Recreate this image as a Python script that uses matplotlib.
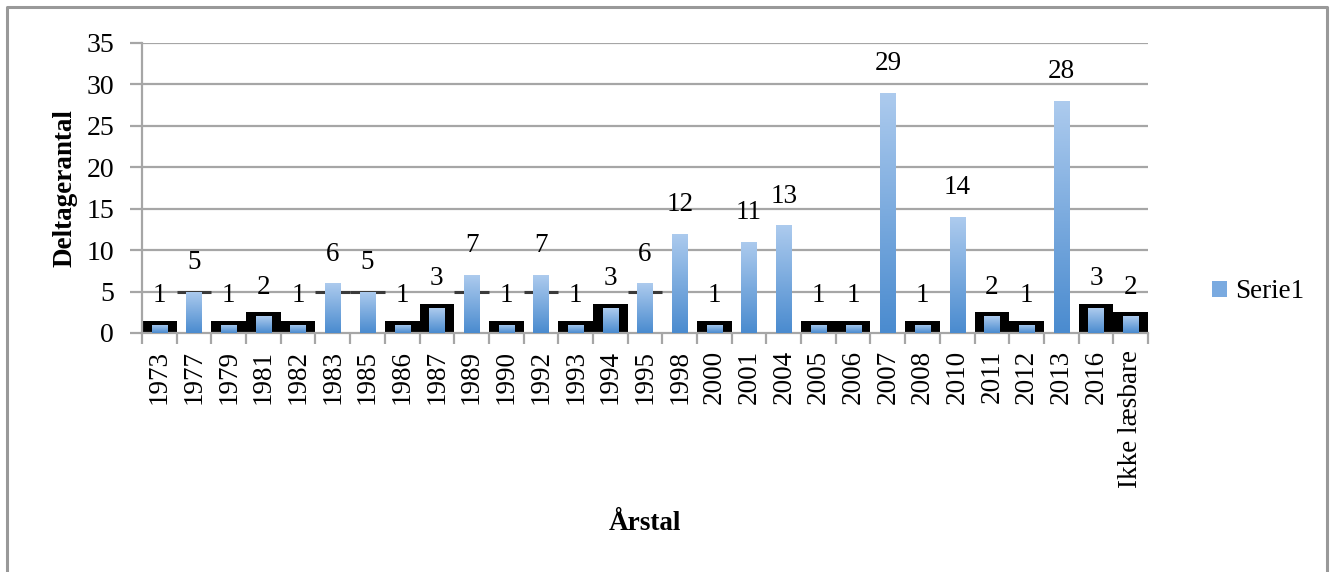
import matplotlib
matplotlib.use("Agg")
import matplotlib.pyplot as plt
import numpy as np
from matplotlib.lines import Line2D
from matplotlib.patches import Patch
from matplotlib.colors import LinearSegmentedColormap

categories = ["1973", "1977", "1979", "1981", "1982", "1983", "1985", "1986", "1987",
              "1989", "1990", "1992", "1993", "1994", "1995", "1998", "2000", "2001",
              "2004", "2005", "2006", "2007", "2008", "2010", "2011", "2012", "2013",
              "2016", "Ikke læsbare"]
values = [1, 5, 1, 2, 1, 6, 5, 1, 3, 7, 1, 7, 1, 3, 6, 12, 1, 11, 13, 1, 1, 29, 1, 14,
          2, 1, 28, 3, 2]
series_name = "Serie1"
yticks = [0, 5, 10, 15, 20, 25, 30, 35]

plt.rcParams['font.family'] = ['Liberation Serif', 'DejaVu Serif']

W, H = 1331, 572
fig = plt.figure(figsize=(W / 100, H / 100), dpi=100)
ax = fig.add_axes([142 / W, 1 - 333 / H, (1148 - 142) / W, (333 - 43) / H])

x = np.arange(len(categories))
grid_c = '#a6a6a6'

ax.set_xlim(-0.5, len(categories) - 0.5)
ax.set_ylim(0, 35)
ax.set_yticks(yticks)
for yv in yticks[1:]:
    ax.axhline(yv, color=grid_c, lw=1.6, zorder=0)

# black rendering artifacts behind small bars
vals = np.array(values)
small = vals <= 3
ax.bar(x[small], vals[small] + 0.5, width=1.0, color='black', zorder=1)
mid = (vals >= 5) & (vals <= 7)
ax.hlines([5] * mid.sum(), x[mid] - 0.5, x[mid] + 0.5, color='#3a3a3a', lw=2.2, zorder=1)

cmap = LinearSegmentedColormap.from_list('g', ['#4a8bcf', '#adcbee'])
grad = np.linspace(0, 1, 256).reshape(-1, 1)
bars = ax.bar(x, values, width=0.44, color='#7aaae0', zorder=2)
for b in bars:
    x0, y0, w, h = b.get_x(), b.get_y(), b.get_width(), b.get_height()
    im = ax.imshow(grad, cmap=cmap, origin='lower', aspect='auto',
                   extent=[x0, x0 + w, y0, y0 + h], zorder=3)
    im.set_clip_path(b)
ax.set_xlim(-0.5, len(categories) - 0.5)
ax.set_ylim(0, 35)

for xi, v in zip(x, values):
    ax.annotate(str(v), (xi, v), xytext=(0, 12), textcoords='offset points',
                ha='center', va='bottom', fontsize=19.5, zorder=5)

for s in ['top', 'right']:
    ax.spines[s].set_visible(False)
for s in ['left', 'bottom']:
    ax.spines[s].set_color(grid_c)
    ax.spines[s].set_linewidth(1.6)

ax.tick_params(axis='y', length=9, width=1.6, color=grid_c, labelsize=20, pad=11)
ax.set_xticks(x)
ax.set_xticklabels(categories, rotation=90, fontsize=19.5)
ax.tick_params(axis='x', which='major', length=0, pad=12)
ax.set_xticks(np.arange(len(categories) + 1) - 0.5, minor=True)
ax.tick_params(axis='x', which='minor', length=8, width=1.6, color=grid_c)

fig.text(65 / W, 1 - 188 / H, "Deltagerantal", rotation=90, ha='center', va='center',
         fontsize=19.5, fontweight='bold')
fig.text(645 / W, 1 - 523 / H, "Årstal", ha='center', va='center',
         fontsize=19.5, fontweight='bold')

leg = fig.legend(handles=[Patch(facecolor='#7aaae0', edgecolor='none', label=series_name)],
                 loc='center left', bbox_to_anchor=(1188 / W, 1 - 292 / H), frameon=False,
                 prop={'family': ['Liberation Serif'], 'size': 19.5},
                 handlelength=0.55, handleheight=0.55, handletextpad=0.3)

bc = '#999999'
fig.add_artist(Line2D([7 / W, 7 / W, 1327 / W, 1327 / W], [0, 1 - 7 / H, 1 - 7 / H, 0],
                      color=bc, lw=2.2, transform=fig.transFigure))

fig.savefig("out.png", dpi=100)
